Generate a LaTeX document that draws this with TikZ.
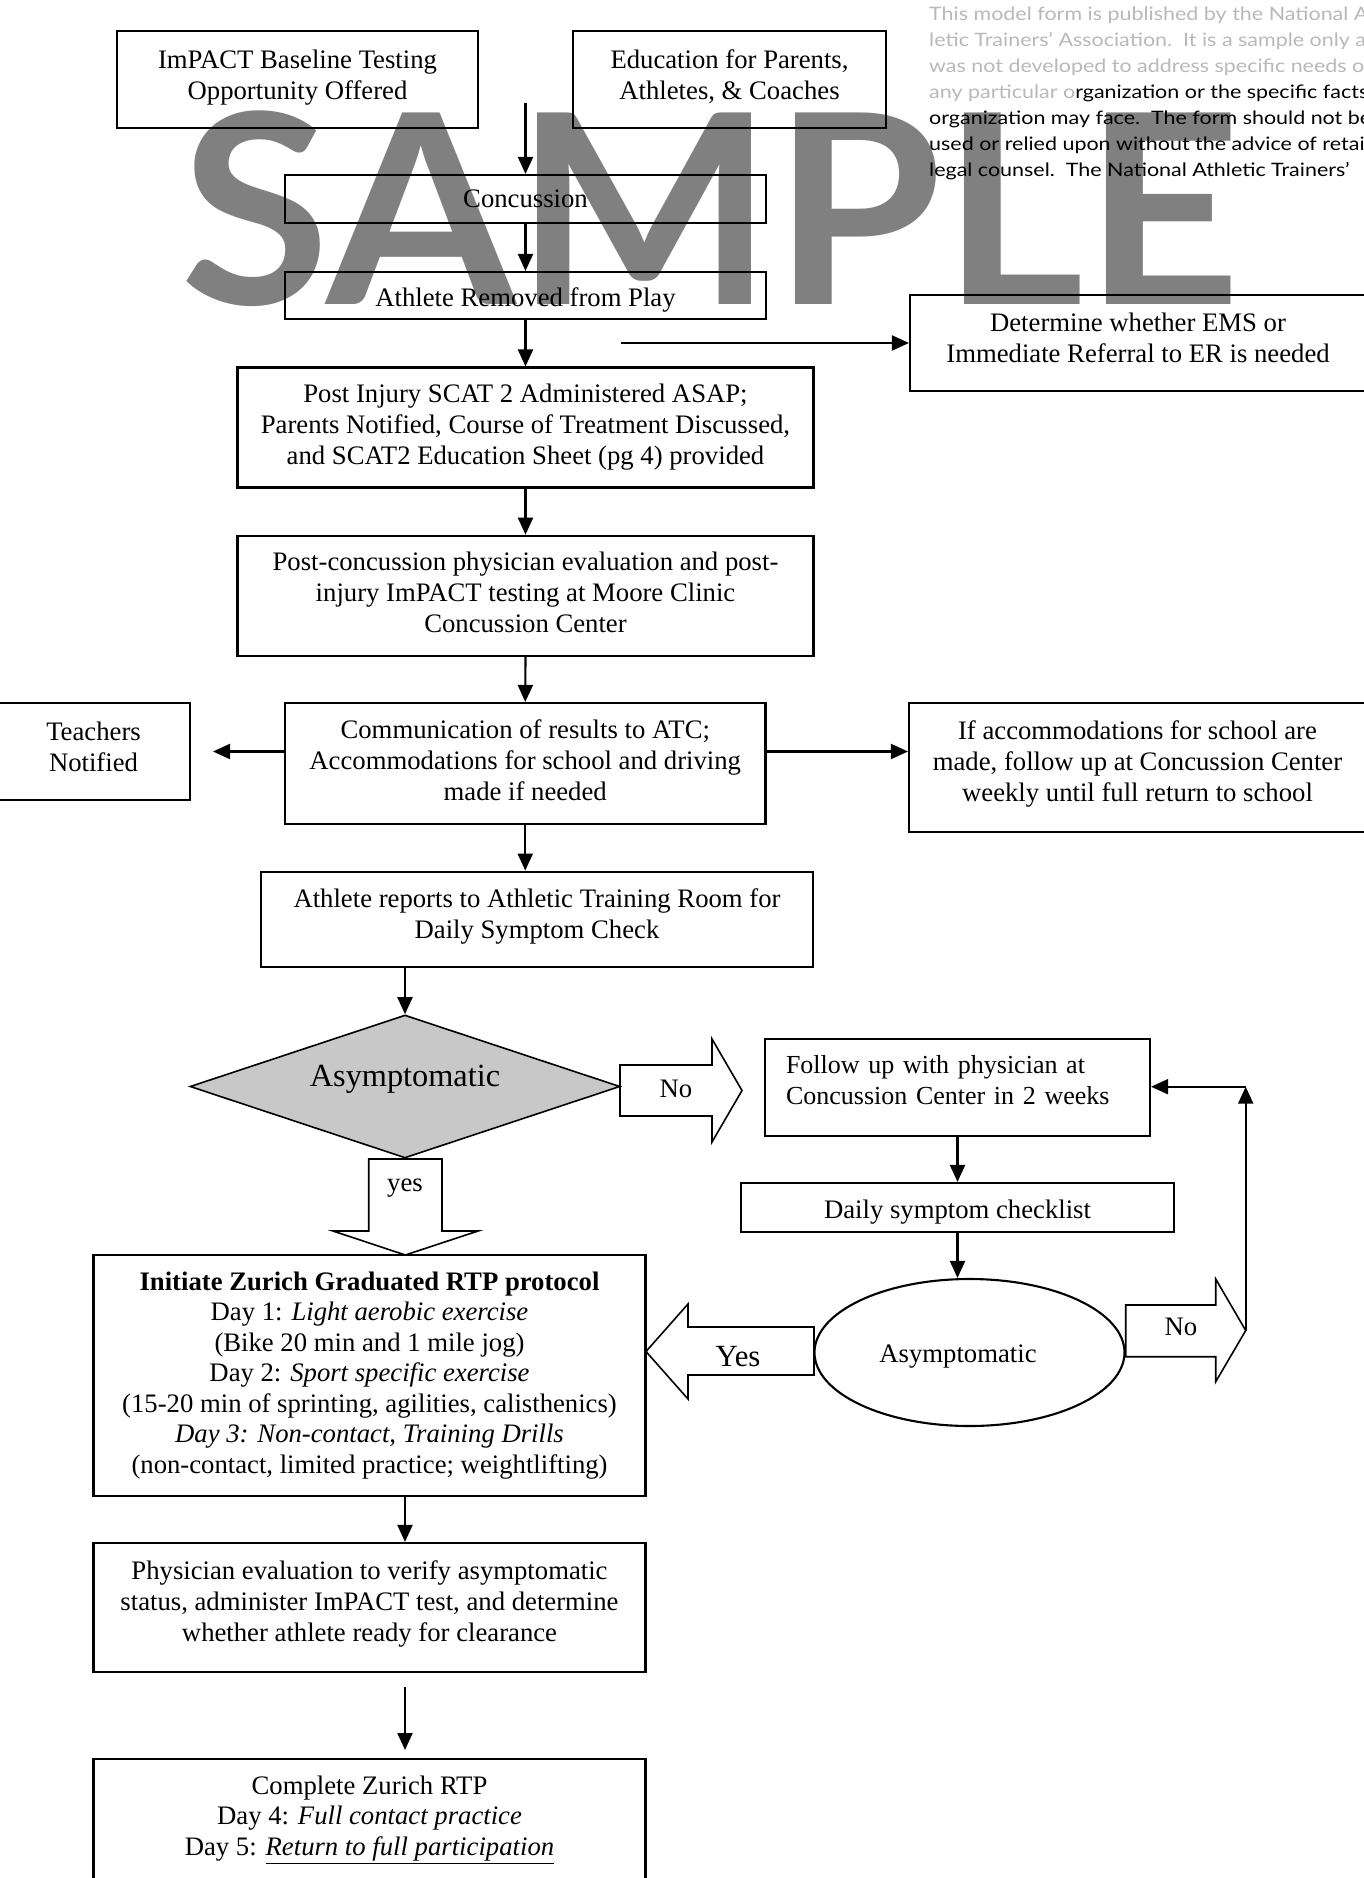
\documentclass[tikz,border=0pt]{standalone}
\usepackage{fontspec}
\setmainfont{Liberation Serif}
\newfontfamily\wmfont[FakeStretch=1.03]{Lato}
\newfontfamily\notefont[FakeStretch=1.16]{Lato}
\usetikzlibrary{arrows.meta,shapes.geometric}
\definecolor{wmgray}{RGB}{128,128,128}
\definecolor{lightnote}{RGB}{185,185,185}
\definecolor{diafill}{RGB}{200,200,200}
\tikzset{
  box/.style={draw, line width=2.1pt, inner sep=0pt, align=center, font=\fontsize{26.7}{31}\selectfont},
  arr/.style={line width=2.1pt, -{Triangle[width=15pt,length=17pt]}},
  blk/.style={draw, line width=1.6pt},
  lbl/.style={inner sep=0pt, font=\fontsize{26.7}{31}\selectfont},
}
\begin{document}
\begin{tikzpicture}[x=1pt,y=-1pt]
\useasboundingbox (0,0) rectangle (1364,1878);
\fill[white] (0,0) rectangle (1364,1878);
\clip (0,0) rectangle (1364,1878);
% watermark
\node[anchor=base west, inner sep=0pt, text=wmgray, font=\wmfont\bfseries\fontsize{265}{265}\selectfont] (wm) at (180,304) {SAMPLE};
% note (base = last line)
\node[anchor=base west, inner sep=0pt, align=left, font=\notefont\fontsize{18.5}{26}\selectfont] (note) at (929,176.5) {%
{\color{lightnote}This model form is published by the National Ath-}\\
{\color{lightnote}letic Trainers’ Association.\ \ It is a sample only and}\\
{\color{lightnote}was not developed to address specific needs of}\\
{\color{lightnote}any particular o}rganization or the specific facts\\
organization may face.\ \ The form should not be\\
used or relied upon without the advice of retained\\
legal counsel.\ \ The National Athletic Trainers’};
% boxes
\node[box, minimum width=361pt, minimum height=97pt, text depth=10pt] (imp) at (297.5,79.5) {ImPACT Baseline Testing\\Opportunity Offered};
\node[box, minimum width=313pt, minimum height=97pt, text depth=10pt] (edu) at (729.5,79.5) {Education for Parents,\\Athletes, \& Coaches};
\node[box, minimum width=481pt, minimum height=48pt] (conc) at (525.5,199) {Concussion};
\node[box, minimum width=481pt, minimum height=47pt, text height=28pt, text depth=6pt] (rem) at (525.5,295.5) {Athlete Removed from Play};
\node[box, minimum width=456pt, minimum height=96pt, text depth=10pt] (ems) at (1138,343) {Determine whether EMS or\\Immediate Referral to ER is needed};
\node[box, minimum width=576pt, minimum height=120pt] (scat) at (525.5,427.5) {Post Injury SCAT 2 Administered ASAP;\\Parents Notified, Course of Treatment Discussed,\\and SCAT2 Education Sheet (pg 4) provided};
\node[box, minimum width=576pt, minimum height=120pt, text depth=6pt] (post) at (525.5,595.7) {Post-concussion physician evaluation and post-\\injury ImPACT testing at Moore Clinic\\Concussion Center};
\node[box, minimum width=480.5pt, minimum height=121pt, text depth=6pt] (comm) at (525.25,763.5) {Communication of results to ATC;\\Accommodations for school and driving\\made if needed};
\node[box, minimum width=193pt, minimum height=97pt, text depth=10pt] (teach) at (93.5,751.5) {Teachers\\Notified};
\node[box, minimum width=457pt, minimum height=128.7pt, text depth=12pt] (acc) at (1137.5,767.3) {If accommodations for school are\\made, follow up at Concussion Center\\weekly until full return to school};
\node[box, minimum width=552pt, minimum height=95.3pt, text depth=12pt] (rep) at (537,919.3) {Athlete reports to Athletic Training Room for\\Daily Symptom Check};
\node[draw, diamond, line width=1.6pt, fill=diafill, minimum width=430pt, minimum height=143pt, inner sep=0pt] (dia) at (405,1086.5) {};
\node[lbl, font=\fontsize{32.3}{36}\selectfont] (diat) at (405,1079) {Asymptomatic};
\node[box, text width=343pt, inner xsep=21pt, align=left, minimum height=97pt, text depth=45.6pt, font=\fontsize{26}{31}\selectfont] (fol) at (957.5,1087.5) {Follow up with physician at\\Concussion Center in 2 weeks};
\node[box, minimum width=433pt, minimum height=49pt, text height=28pt, text depth=6pt] (daily) at (957.5,1207.5) {Daily symptom checklist};
\node[draw, ellipse, line width=2.1pt, minimum width=310pt, minimum height=147pt, inner sep=0pt] (ell) at (969.5,1352.5) {};
\node[lbl, text height=24pt, text depth=6pt] (ellt) at (958,1353) {Asymptomatic};
\node[box, minimum width=552pt, minimum height=240.7pt, font=\fontsize{26.7}{30.5}\selectfont] (rtp) at (369.5,1375.3) {\textbf{Initiate Zurich Graduated RTP protocol}\\Day 1: \textit{Light aerobic exercise}\\(Bike 20 min and 1 mile jog)\\Day 2: \textit{Sport specific exercise}\\(15-20 min of sprinting, agilities, calisthenics)\\\textit{Day 3: Non-contact, Training Drills}\\(non-contact, limited practice; weightlifting)};
\node[box, minimum width=552pt, minimum height=128.7pt, text depth=12pt] (phys) at (369.5,1607.3) {Physician evaluation to verify asymptomatic\\status, administer ImPACT test, and determine\\whether athlete ready for clearance};
\node[box, minimum width=552pt, minimum height=121pt, font=\fontsize{26.7}{30.8}\selectfont] (comp) at (369.5,1819.5) {Complete Zurich RTP\\Day 4: \textit{Full contact practice}\\Day 5: \underline{\textit{Return to full participation}}};
% connectors
\coordinate (top) at (525.5,103);
\draw[arr] (top) -- (conc.north);
\draw[arr] (conc.south) -- (rem.north);
\draw[arr] (rem.south) -- (scat.north);
\coordinate (emsS) at (620.5,343);
\draw[arr] (emsS) -- (ems.west);
\draw[arr] (scat.south) -- (post.north);
\draw[arr] (post.south) -- (comm.north);
\coordinate (tchE) at (213,751.5);
\draw[arr] (comm.west |- tchE) -- (tchE);
\draw[arr] (comm.east |- tchE) -- (acc.west |- tchE);
\draw[arr] (comm.south) -- (comm.south |- rep.north);
\draw[arr] (dia.north |- rep.south) -- (dia.north);
% block arrow No (diamond -> follow up)
\draw[blk] (620,1065) -- (712,1065) -- (712,1039) -- (742,1090.5) -- (712,1142) -- (712,1116) -- (620,1116) -- cycle;
\node[lbl] (no1) at (676,1089) {No};
% block arrow yes (diamond -> RTP)
\draw[blk] (368.7,1159) -- (442,1159) -- (442,1231) -- (478,1231) -- (405.3,1255) -- (333,1231) -- (368.7,1231) -- cycle;
\node[lbl] (yes1) at (405,1188) {yes};
% loop
\draw[arr] (fol.south) -- (daily.north);
\draw[arr] (daily.south) -- (daily.south |- ell.north);
\draw[blk] (1125.7,1305) -- (1215.7,1305) -- (1215.7,1279) -- (1245.7,1330.5) -- (1215.7,1381.7) -- (1215.7,1356.7) -- (1125.7,1356.7) -- cycle;
\node[lbl] (no2) at (1180.8,1326.7) {No};
\coordinate (tipR) at (1245.7,1330.5);
\coordinate (corner) at (1245.7,1086.7);
\draw[arr] (tipR) -- (corner);
\draw[arr] (corner) -- (fol.east |- corner);
\draw[blk] (814,1327) -- (688,1327) -- (688,1304) -- (646,1351.5) -- (688,1399) -- (688,1375) -- (814,1375) -- cycle;
\node[lbl, font=\fontsize{30.8}{34}\selectfont] (yes2) at (738,1357) {Yes};
% bottom
\draw[arr] (dia.south |- rtp.south) -- (dia.south |- phys.north);
\coordinate (pcS) at (405,1686.7);
\coordinate (pcE) at (405,1750);
\draw[arr] (pcS) -- (pcE);
\end{tikzpicture}
\end{document}
